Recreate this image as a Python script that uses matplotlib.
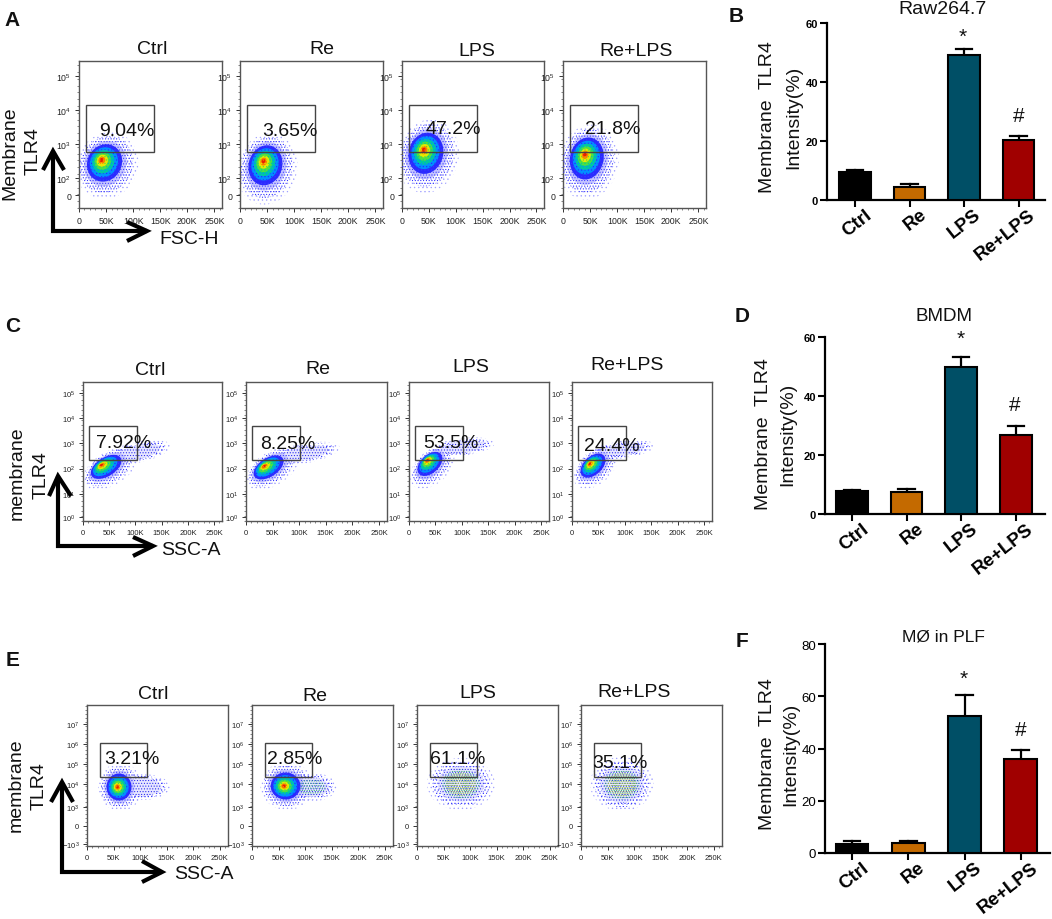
import numpy as np
import matplotlib
matplotlib.use("Agg")
import matplotlib.pyplot as plt
from matplotlib.patches import Rectangle
from matplotlib.transforms import ScaledTranslation

plt.rcParams['font.family'] = ['Liberation Sans', 'DejaVu Sans']
plt.rcParams['mathtext.default'] = 'regular'
plt.rcParams['hatch.linewidth'] = 0.45

W, H = 1052, 920
fig = plt.figure(figsize=(W / 100, H / 100), dpi=100, facecolor='white')

# ---------------- data ----------------
groups = ['Ctrl', 'Re', 'LPS', 'Re+LPS']
bar_colors = ['#000000', '#C46A00', '#004F66', '#A00000']

raw_means = [9.6, 4.5, 49.2, 20.3]
raw_upper = [10.3, 5.4, 51.2, 21.7]
bmdm_means = [7.8, 7.3, 49.8, 26.7]
bmdm_upper = [8.2, 8.4, 53.3, 29.8]
plf_means = [3.4, 4.0, 52.3, 36.0]
plf_upper = [4.6, 4.7, 60.6, 39.5]

pct_a = ['9.04%', '3.65%', '47.2%', '21.8%']
pct_c = ['7.92%', '8.25%', '53.5%', '24.4%']
pct_e = ['3.21%', '2.85%', '61.1%', '35.1%']

x_ticks_k = [0, 50, 100, 150, 200, 250]
x_tick_labels = ['0', '50K', '100K', '150K', '200K', '250K']

a_ypos = [5, 4, 3, 2, 1.5]
a_ylab = ['$10^{5}$', '$10^{4}$', '$10^{3}$', '$10^{2}$', '0']
c_ypos = [5, 4, 3, 2, 1, 0.07]
c_ylab = ['$10^{5}$', '$10^{4}$', '$10^{3}$', '$10^{2}$', '$10^{1}$', '$10^{0}$']
e_ypos = [7, 6, 5, 4, 2.85, 1.9, 1.0]
e_ylab = ['$10^{7}$', '$10^{6}$', '$10^{5}$', '$10^{4}$', '$10^{3}$', '0', '$-10^{3}$']

# cloud outlines: (core x, core y, halo x, halo y, rx, ry, tilt, levels)
a_clouds = [
    [(41, 2.55, 52, 2.38, 58, 0.98, 0.1, 10)],
    [(43, 2.52, 50, 2.28, 56, 1.05, 0.1, 10)],
    [(40, 2.85, 48, 2.65, 58, 1.08, 0.1, 10)],
    [(40, 2.72, 47, 2.48, 56, 1.10, 0.1, 10)],
]
c_clouds = [
    [(105, 2.65, 105, 2.65, 62, 0.48, 0.5, 3), (34, 2.15, 52, 2.00, 52, 0.85, 0.5, 10)],
    [(110, 2.60, 110, 2.60, 66, 0.46, 0.5, 3), (33, 2.10, 50, 2.00, 50, 0.85, 0.5, 10)],
    [(100, 2.85, 100, 2.85, 62, 0.38, 0.4, 3), (34, 2.35, 44, 2.05, 42, 0.85, 0.45, 10)],
    [(95, 2.75, 95, 2.75, 62, 0.38, 0.4, 3), (33, 2.20, 45, 2.05, 42, 0.85, 0.45, 10)],
]
e_clouds = [
    [(105, 3.85, 105, 3.85, 52, 0.65, 0, 3), (57, 3.85, 63, 3.85, 42, 1.20, 0, 10)],
    [(112, 3.85, 112, 3.85, 48, 0.72, 0, 4), (60, 3.90, 66, 3.90, 50, 1.20, 0, 10)],
    [(83, 4.00, 83, 4.00, 64, 1.30, 0, 5)],
    [(77, 3.95, 77, 4.00, 60, 1.35, 0, 5)],
]

# layout of panels in pixels, (left, right)
row_a = dict(xs=[(79, 222), (240, 383), (402, 544), (563, 706)], y=(62, 209),
             xmax=264, ylim=(1.13, 5.45), ypos=a_ypos, ylab=a_ylab,
             gate=(13, 139, 2.77, 4.17), clouds=a_clouds, lab=6.3)
row_c = dict(xs=[(83, 222), (246, 387), (409, 549), (572, 712)], y=(383, 522),
             xmax=265, ylim=(-0.08, 5.43), ypos=c_ypos, ylab=c_ylab,
             gate=(11.5, 102, 2.35, 3.69), clouds=c_clouds, lab=5.5)
row_e = dict(xs=[(87, 228), (252, 393), (417, 558), (581, 722)], y=(706, 847),
             xmax=266, ylim=(0.9, 7.95), ypos=e_ypos, ylab=e_ylab,
             gate=(24.5, 113, 4.35, 6.05), clouds=e_clouds, lab=5.5)

# colour layers from the outside of a cloud to its centre
layer_t = [1.0, 0.85, 0.68, 0.56, 0.45, 0.35, 0.26, 0.18, 0.11, 0.06]
layer_c = ['#a0a0ff', '#3030ff', '#3a3aff', '#2a2aff', '#0090ff', '#00c8a0',
           '#50e040', '#e8e800', '#f88000', '#e82000']
speck_c = ['#a0a0ff', '#3030ff', '#2a2aee', '#30b070', '#c0c840']


def px_axes(x0, x1, y0, y1):
    return fig.add_axes([x0 / W, 1 - y1 / H, (x1 - x0) / W, (y1 - y0) / H])


def draw_cloud(ax, cloud):
    cx, cy, hx, hy, rx, ry, rho, levels = cloud
    th = np.linspace(0, 2 * np.pi, 90)
    speck = levels <= 5
    for k in range(levels):
        f = layer_t[k]
        mx = cx + (hx - cx) * f
        my = cy + (hy - cy) * f
        xs = mx + rx * f * np.cos(th)
        ys = my + ry * f * (rho * np.cos(th) + np.sqrt(1 - rho ** 2) * np.sin(th))
        if speck:
            face = '#e6e6ff' if k == 2 else 'none'
            ax.fill(xs, ys, facecolor=face, edgecolor=speck_c[k], linewidth=0,
                    hatch='.' * (4 + k), zorder=2 + k)
        elif k < 2:
            ax.fill(xs, ys, facecolor='none', edgecolor=layer_c[k], linewidth=0,
                    hatch='.' * (4 + 2 * k), zorder=2 + k)
        elif k == 2:
            ax.fill(xs, ys, facecolor='#c4c4ff', edgecolor=layer_c[k], linewidth=0,
                    hatch='......', zorder=2 + k)
        else:
            ax.fill(xs, ys, facecolor=layer_c[k], edgecolor=layer_c[k - 1], linewidth=0,
                    hatch='.....', zorder=2 + k)


def flow_row(row):
    y0, y1 = row['y']
    for (x0, x1), clouds in zip(row['xs'], row['clouds']):
        ax = px_axes(x0, x1, y0, y1)
        ax.set_xlim(0, row['xmax'])
        ax.set_ylim(*row['ylim'])
        for cloud in clouds:
            draw_cloud(ax, cloud)
        g = row['gate']
        ax.add_patch(Rectangle((g[0], g[2]), g[1] - g[0], g[3] - g[2], fill=False,
                               edgecolor='#444444', linewidth=1.0, zorder=20))
        ax.set_xticks(x_ticks_k)
        ax.set_xticklabels(x_tick_labels)
        ax.set_xticks(np.arange(0, row['xmax'], 10), minor=True)
        ax.set_yticks(row['ypos'])
        ax.set_yticklabels(row['ylab'])
        ax.set_yticks(np.arange(row['ylim'][0], row['ylim'][1], 0.2), minor=True)
        ax.tick_params(axis='both', which='major', labelsize=row['lab'], length=3,
                       width=0.7, pad=2.5, color='#333333', labelcolor='#222222')
        ax.tick_params(axis='both', which='minor', length=1.5, width=0.5, color='#555555')
        for s in ax.spines.values():
            s.set_linewidth(1.0)
            s.set_color('#555555')


def bar_panel(box, xlim, ymax, yticks, means, upper, tick_fs, tick_w):
    x0, x1, y0, y1 = box
    ax = px_axes(x0, x1, y0, y1)
    pos = np.arange(len(groups))
    ax.bar(pos, means, width=0.58, color=bar_colors, edgecolor='black', linewidth=1.5, zorder=3)
    for p, m, u in zip(pos, means, upper):
        ax.plot([p, p], [m, u], color='black', lw=1.6, zorder=2)
        ax.plot([p - 0.15, p + 0.15], [u, u], color='black', lw=1.6, zorder=2)
    ax.set_xlim(*xlim)
    ax.set_ylim(0, ymax)
    ax.set_yticks(yticks)
    ax.set_xticks(pos)
    ax.set_xticklabels(groups)
    for s in ('top', 'right'):
        ax.spines[s].set_visible(False)
    for s in ('left', 'bottom'):
        ax.spines[s].set_linewidth(1.6)
    ax.tick_params(axis='y', length=5, width=1.5, labelsize=tick_fs, pad=1.5)
    ax.tick_params(axis='x', length=5, width=1.5, labelsize=13.5, pad=1)
    for lab in ax.get_yticklabels():
        lab.set_fontweight(tick_w)
    shift = ScaledTranslation(7 / 72, 2 / 72, fig.dpi_scale_trans)
    for lab in ax.get_xticklabels():
        lab.set_rotation(38)
        lab.set_ha('right')
        lab.set_va('top')
        lab.set_rotation_mode('anchor')
        lab.set_fontweight('bold')
        lab.set_transform(lab.get_transform() + shift)
    ax.patch.set_alpha(0)
    return ax


for r in (row_a, row_c, row_e):
    flow_row(r)

bar_panel((827, 1045, 24, 201), (-0.514, 3.486), 60, [0, 20, 40, 60], raw_means, raw_upper, 8, 'bold')
bar_panel((825, 1045, 338, 515), (-0.49, 3.53), 60, [0, 20, 40, 60], bmdm_means, bmdm_upper, 8, 'bold')
bar_panel((825, 1050, 645, 854), (-0.48, 3.52), 80, [0, 20, 40, 60, 80], plf_means, plf_upper, 9.5, 'normal')

# overlay in pixel coordinates for free text and the axis arrows
ov = fig.add_axes([0, 0, 1, 1], zorder=50)
ov.set_xlim(0, W)
ov.set_ylim(H, 0)
ov.axis('off')
ov.patch.set_alpha(0)


def t(x, y, s, fs=14, rot=0, **kw):
    ov.text(x, y, s, fontsize=fs, rotation=rot, ha='center', va='center', color='#111111', **kw)


for (x, y), s in zip([(12, 20), (736, 17), (13, 327), (742, 317), (13, 661), (742, 642)], 'ABCDEF'):
    t(x, y, s, fs=15, fontweight='bold')

title_pos = [
    [(152, 50), (322, 50), (477, 52), (636, 51)],
    [(150, 371), (318, 370), (471, 368), (627, 366)],
    [(153, 695), (315, 697), (478, 694), (634, 693)],
]
pct_pos = [
    [(127, 131), (290, 131), (453, 130), (613, 130)],
    [(124, 444), (288, 445), (451, 444), (612, 447)],
    [(132, 760), (295, 760), (458, 760), (620, 764)],
]
for tpos, ppos, pct in zip(title_pos, pct_pos, [pct_a, pct_c, pct_e]):
    for (x, y), g in zip(tpos, groups):
        t(x, y, g)
    for (x, y), p in zip(ppos, pct):
        t(x, y, p)

t(10, 153, 'Membrane', rot=90)
t(33, 151, 'TLR4', rot=90)
t(17, 473, 'membrane', rot=90)
t(41, 475, 'TLR4', rot=90)
t(16, 785, 'membrane', rot=90)
t(39, 786, 'TLR4', rot=90)
t(189, 240, 'FSC-H')
t(191, 551, 'SSC-A')
t(204, 875, 'SSC-A')

arrow_sets = [
    ((53, 232, 152, 147), (43, 171, 64), (127, 223, 242)),
    ((58, 547, 477, 153), (49, 497, 71), (133, 538, 557)),
    ((62, 873, 783, 162), (51, 803, 73), (142, 862, 883)),
]
for (ax_x, ax_y, top, right), (hl, hy, hr), (vx, vt, vb) in arrow_sets:
    style = dict(color='black', lw=3.0, solid_capstyle='butt', solid_joinstyle='miter')
    ov.plot([ax_x, ax_x, right], [top, ax_y, ax_y], **style)
    ov.plot([hl, ax_x, hr], [hy, top, hy], **style)
    ov.plot([vx, right, vx], [vt, ax_y, vb], **style)

t(943, 9, 'Raw264.7')
t(944, 317, 'BMDM', fs=13.5)
t(943, 637, 'MØ in PLF', fs=12.5)

for lx, ix, y in [(768, 794, 117.5), (763, 788, 434), (767, 791, 754)]:
    t(lx, y, 'Membrane  TLR4', rot=90)
    t(ix, y, 'Intensity(%)', rot=90)

for (x, y) in [(963, 37), (961, 339), (964, 679)]:
    t(x, y, '*', fs=15)
for (x, y) in [(1019, 117), (1015, 406), (1021, 731)]:
    t(x, y, '#', fs=15)

fig.savefig('out.png', dpi=100)
